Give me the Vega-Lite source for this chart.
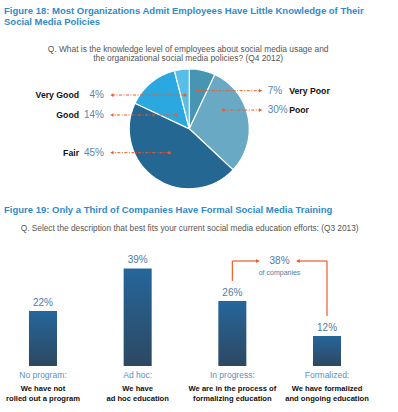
{
  "$schema": "https://vega.github.io/schema/vega-lite/v6.json",
  "background": "white",
  "padding": {"left": 0, "right": 0, "top": 5, "bottom": 0},
  "spacing": 10,
  "config": {
    "view": {"stroke": null},
    "font": "Liberation Sans",
    "title": {"font": "Liberation Sans", "fontSize": 9.5, "fontWeight": "bold", "color": "#2f8bcb", "anchor": "start", "frame": "group", "dx": 4, "lineHeight": 11}
  },
  "datasets": {
    "knowledge": [
      {"level": "Very Poor", "pct": 0.07},
      {"level": "Poor", "pct": 0.30},
      {"level": "Fair", "pct": 0.45},
      {"level": "Good", "pct": 0.14},
      {"level": "Very Good", "pct": 0.04}
    ],
    "callouts": [
      {"level": "Very Poor", "side": "right", "tipX": 0.14, "tipY": 0.635},
      {"level": "Poor", "side": "right", "tipX": 0.567, "tipY": 0.313},
      {"level": "Fair", "side": "left", "tipX": -0.333, "tipY": -0.398},
      {"level": "Good", "side": "left", "tipX": -0.222, "tipY": 0.23},
      {"level": "Very Good", "side": "left", "tipX": -0.072, "tipY": 0.563}
    ],
    "education": [
      {"stage": "No program:", "desc": ["We have not", "rolled out a program"], "pct": 0.22},
      {"stage": "Ad hoc:", "desc": ["We have", "ad hoc education"], "pct": 0.39},
      {"stage": "In progress:", "desc": ["We are in the process of", "formalizing education"], "pct": 0.26},
      {"stage": "Formalized:", "desc": ["We have formalized", "and ongoing education"], "pct": 0.12}
    ],
    "combined": [
      {"share": 0.38, "note": "of companies"}
    ],
    "questions": [
      {"q18": ["Q. What is the knowledge level of employees about social media usage and", "the organizational social media policies? (Q4 2012)"],
       "q19": "Q. Select the description that best fits your current social media education efforts: (Q3 2013)"}
    ]
  },
  "vconcat": [
    {
      "width": 398,
      "height": 164,
      "title": {"text": ["Figure 18: Most Organizations Admit Employees Have Little Knowledge of Their", "Social Media Policies"], "offset": 4},
      "layer": [
        {
          "data": {"name": "knowledge"},
          "transform": [{"window": [{"op": "row_number", "as": "seq"}]}],
          "mark": {"type": "arc", "outerRadius": 60, "stroke": "white", "strokeWidth": 1.2},
          "encoding": {
            "theta": {"field": "pct", "type": "quantitative", "stack": true},
            "order": {"field": "seq", "type": "quantitative", "sort": "ascending"},
            "color": {"field": "level", "type": "nominal", "legend": null,
              "scale": {"domain": ["Very Poor", "Poor", "Fair", "Good", "Very Good"], "range": ["#4595b3", "#6aa9c3", "#256793", "#2aa8df", "#58bde9"]}},
            "x": {"datum": 0, "type": "quantitative", "scale": {"domain": [-3.155, 3.478], "nice": false, "zero": false}, "axis": null},
            "y": {"datum": 0, "type": "quantitative", "scale": {"domain": [-1.087, 1.647], "nice": false, "zero": false}, "axis": null}
          }
        },
        {
          "data": {"name": "questions"},
          "mark": {"type": "text", "fontSize": 8.4, "color": "#555555", "lineHeight": 9, "baseline": "middle", "align": "center"},
          "encoding": {
            "x": {"datum": -0.02, "type": "quantitative"},
            "y": {"datum": 1.338, "type": "quantitative"},
            "text": {"field": "q18"}
          }
        },
        {
          "data": {"name": "callouts"},
          "transform": [
            {"lookup": "level", "from": {"data": {"name": "knowledge"}, "key": "level", "fields": ["pct"]}}
          ],
          "encoding": {"y": {"field": "tipY", "type": "quantitative"}},
          "layer": [
            {
              "transform": [{"filter": "datum.side === 'left'"}],
              "mark": {"type": "rule", "color": "#f15a29", "strokeWidth": 1, "strokeDash": [3, 1.5, 1, 1.5]},
              "encoding": {"x": {"field": "tipX", "type": "quantitative"}, "x2": {"datum": -1.29}}
            },
            {
              "transform": [{"filter": "datum.side === 'right'"}],
              "mark": {"type": "rule", "color": "#f15a29", "strokeWidth": 1, "strokeDash": [3, 1.5, 1, 1.5]},
              "encoding": {"x": {"field": "tipX", "type": "quantitative"}, "x2": {"datum": 1.187}}
            },
            {
              "mark": {"type": "point", "shape": "circle", "filled": true, "size": 9, "color": "#f15a29", "opacity": 1},
              "encoding": {"x": {"field": "tipX", "type": "quantitative"}}
            },
            {
              "transform": [{"filter": "datum.side === 'left'"}],
              "mark": {"type": "point", "shape": "triangle-left", "filled": true, "size": 14, "color": "#f15a29", "opacity": 1},
              "encoding": {"x": {"datum": -1.29}}
            },
            {
              "transform": [{"filter": "datum.side === 'right'"}],
              "mark": {"type": "point", "shape": "triangle-right", "filled": true, "size": 14, "color": "#f15a29", "opacity": 1},
              "encoding": {"x": {"datum": 1.187}}
            },
            {
              "transform": [{"filter": "datum.side === 'left'"}],
              "mark": {"type": "text", "fontSize": 10, "color": "#5b84ae", "align": "right", "baseline": "middle"},
              "encoding": {"x": {"datum": -1.422}, "text": {"field": "pct", "type": "quantitative", "format": ".0%"}}
            },
            {
              "transform": [{"filter": "datum.side === 'left'"}],
              "mark": {"type": "text", "fontSize": 8.7, "fontWeight": "bold", "color": "#111111", "align": "right", "baseline": "middle"},
              "encoding": {"x": {"datum": -1.838}, "text": {"field": "level"}}
            },
            {
              "transform": [{"filter": "datum.side === 'right'"}],
              "mark": {"type": "text", "fontSize": 10, "color": "#5b84ae", "align": "left", "baseline": "middle"},
              "encoding": {"x": {"datum": 1.307}, "text": {"field": "pct", "type": "quantitative", "format": ".0%"}}
            },
            {
              "transform": [{"filter": "datum.side === 'right'"}],
              "mark": {"type": "text", "fontSize": 8.7, "fontWeight": "bold", "color": "#111111", "align": "left", "baseline": "middle"},
              "encoding": {"x": {"datum": 1.665}, "text": {"field": "level"}}
            }
          ]
        }
      ]
    },
    {
      "width": 370,
      "height": 144,
      "title": {"text": "Figure 19: Only a Third of Companies Have Formal Social Media Training", "offset": 8},
      "encoding": {
        "x": {"field": "stage", "type": "nominal", "sort": null,
          "scale": {"paddingInner": 0.704, "paddingOuter": 0.306},
          "axis": {"title": null, "domain": false, "ticks": false, "tickSize": 0, "labelAngle": 0, "labelColor": "#5b8fc4", "labelFontSize": 8.5, "labelFont": "Liberation Sans", "labelPadding": 4.2}}
      },
      "layer": [
        {
          "data": {"name": "education"},
          "mark": {"type": "bar", "color": {"gradient": "linear", "x1": 0, "y1": 0, "x2": 0, "y2": 1, "stops": [{"offset": 0, "color": "#25669a"}, {"offset": 1, "color": "#2d4862"}]}},
          "encoding": {
            "y": {"field": "pct", "type": "quantitative", "scale": {"domain": [0, 0.576], "nice": false}, "axis": null}
          }
        },
        {
          "data": {"name": "education"},
          "mark": {"type": "text", "fontSize": 10, "color": "#4f7ba6", "baseline": "alphabetic", "dy": -5.5},
          "encoding": {
            "y": {"field": "pct", "type": "quantitative"},
            "text": {"field": "pct", "type": "quantitative", "format": ".0%"}
          }
        },
        {
          "data": {"name": "education"},
          "mark": {"type": "text", "fontSize": 7.6, "fontWeight": "bold", "color": "#111111", "baseline": "middle", "lineHeight": 10, "dy": 22.7},
          "encoding": {
            "y": {"datum": 0, "type": "quantitative"},
            "text": {"field": "desc"}
          }
        },
        {
          "data": {"name": "questions"},
          "mark": {"type": "text", "fontSize": 8.3, "color": "#555555", "align": "left", "baseline": "middle", "dx": -22.3},
          "encoding": {
            "x": {"datum": "No program:"},
            "y": {"datum": 0.547, "type": "quantitative"},
            "text": {"field": "q19"}
          }
        },
        {
          "data": {"name": "education"},
          "transform": [{"filter": "datum.stage === 'In progress:' || datum.stage === 'Formalized:'"}],
          "mark": {"type": "rule", "color": "#f15a29", "strokeWidth": 1.2, "yOffset": -20},
          "encoding": {
            "y": {"field": "pct", "type": "quantitative"},
            "y2": {"datum": 0.42}
          }
        },
        {
          "data": {"name": "combined"},
          "layer": [
            {
              "mark": {"type": "rule", "color": "#f15a29", "strokeWidth": 1.2, "x2Offset": 26},
              "encoding": {"x": {"datum": "In progress:"}, "x2": {"datum": "In progress:"}, "y": {"datum": 0.42, "type": "quantitative"}}
            },
            {
              "mark": {"type": "rule", "color": "#f15a29", "strokeWidth": 1.2, "x2Offset": -30},
              "encoding": {"x": {"datum": "Formalized:"}, "x2": {"datum": "Formalized:"}, "y": {"datum": 0.42, "type": "quantitative"}}
            },
            {
              "mark": {"type": "point", "shape": "triangle-right", "filled": true, "size": 16, "color": "#f15a29", "opacity": 1, "xOffset": 25.5},
              "encoding": {"x": {"datum": "In progress:"}, "y": {"datum": 0.42, "type": "quantitative"}}
            },
            {
              "mark": {"type": "point", "shape": "triangle-left", "filled": true, "size": 16, "color": "#f15a29", "opacity": 1, "xOffset": -29},
              "encoding": {"x": {"datum": "Formalized:"}, "y": {"datum": 0.42, "type": "quantitative"}}
            },
            {
              "mark": {"type": "text", "fontSize": 10, "color": "#4f7ba6", "baseline": "middle", "dx": 47.2},
              "encoding": {"x": {"datum": "In progress:"}, "y": {"datum": 0.42, "type": "quantitative"}, "text": {"field": "share", "type": "quantitative", "format": ".0%"}}
            },
            {
              "mark": {"type": "text", "fontSize": 7, "color": "#4f7ba6", "baseline": "middle", "dx": 47.2, "dy": 12},
              "encoding": {"x": {"datum": "In progress:"}, "y": {"datum": 0.42, "type": "quantitative"}, "text": {"field": "note"}}
            }
          ]
        }
      ]
    }
  ]
}
